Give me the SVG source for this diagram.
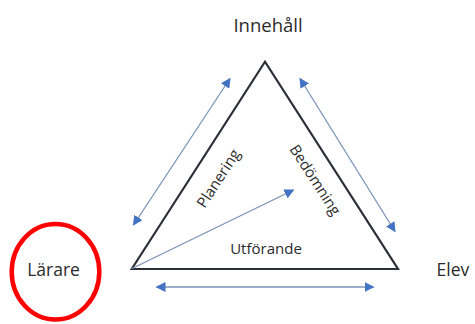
<svg xmlns="http://www.w3.org/2000/svg" width="475" height="324" viewBox="0 0 475 324">
  <style>
    .label { font-family: "Open Sans", "Liberation Sans", sans-serif; fill: #2b2b2b; }
    .big { font-size: 17.5px; }
    .title { font-size: 18.5px; }
    .small { font-size: 15px; }
    .conn { stroke: #7b93b8; stroke-width: 1.3; fill: none; }
    .tri { stroke: #2a2f38; stroke-width: 2.2; fill: none; stroke-linejoin: miter; }
  </style>
  <defs>
    <marker id="head" viewBox="0 0 10 10" refX="9" refY="5" markerWidth="10" markerHeight="10" markerUnits="userSpaceOnUse" orient="auto-start-reverse">
      <path d="M0,0 L10,5 L0,10 z" fill="#4472c4"/>
    </marker>
  </defs>
  <rect width="475" height="324" fill="#ffffff"/>

  <g id="triangle">
    <path class="tri" d="M131.7,269 L265,61.7 L398,269 Z"/>
  </g>

  <g id="connectors">
    <line class="conn" x1="133.5" y1="225" x2="230" y2="78.5" marker-start="url(#head)" marker-end="url(#head)"/>
    <line class="conn" x1="300" y1="78.5" x2="395" y2="231.5" marker-start="url(#head)" marker-end="url(#head)"/>
    <line class="conn" x1="132" y1="268.5" x2="293.5" y2="190" marker-end="url(#head)"/>
    <line class="conn" x1="156.5" y1="287" x2="373.5" y2="287" marker-start="url(#head)" marker-end="url(#head)"/>
  </g>

  <g id="innehall">
    <text class="label title" x="268" y="32" text-anchor="middle">Innehåll</text>
  </g>

  <g id="larare">
    <ellipse cx="55.5" cy="271.7" rx="43.8" ry="47.8" fill="none" stroke="#ff0000" stroke-width="4.5"/>
    <text class="label big" x="53.5" y="276" text-anchor="middle">Lärare</text>
  </g>

  <g id="elev">
    <text class="label big" x="436.5" y="276">Elev</text>
  </g>

  <g id="utforande">
    <text class="label small" x="266" y="254" text-anchor="middle">Utförande</text>
  </g>

  <g id="planering">
    <text class="label small" transform="translate(218.5,178.5) rotate(-57)" x="0" y="5" text-anchor="middle">Planering</text>
  </g>

  <g id="bedomning">
    <text class="label small" transform="translate(315,180) rotate(57)" x="0" y="5" text-anchor="middle">Bedömning</text>
  </g>
</svg>
